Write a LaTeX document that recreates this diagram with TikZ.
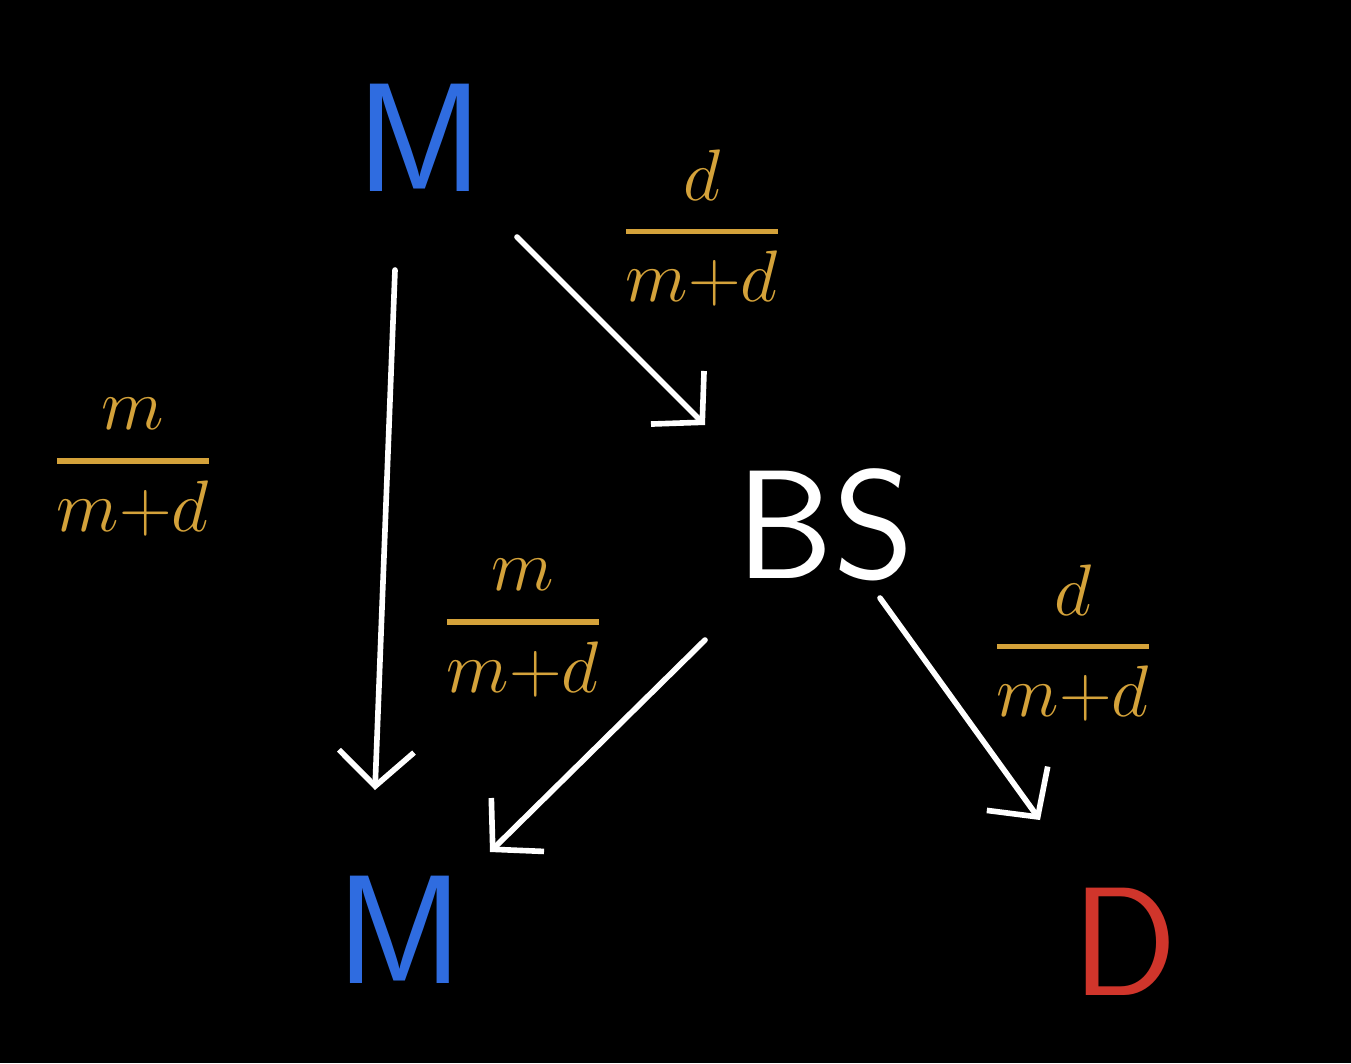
\documentclass[tikz,border=0pt]{standalone}
\usepackage{amsmath}
\usepackage{tikz}
\usetikzlibrary{arrows.meta,calc}
\definecolor{DiagBlue}{HTML}{2F6CE0}
\definecolor{DiagGold}{HTML}{D4A23A}
\definecolor{DiagRed}{HTML}{D0352B}
\newcommand{\share}[2]{\genfrac{}{}{1.6pt}{0}{#1}{#2}}

\begin{document}
\begin{tikzpicture}[
    x=0.01cm, y=-0.01cm,
    party/.style={
      font=\sffamily\fontsize{44}{52}\selectfont,
      inner sep=0pt
    },
    weight/.style={
      text=DiagGold,
      font=\fontsize{20.74}{26}\selectfont,
      inner sep=0pt
    },
    arrow/.style={-{Straight Barb[length=3.5mm,width=7.5mm]}, line width=1.6pt, draw=white, line cap=round, line join=round}
  ]
  \fill[black] (0,0) rectangle (1351,1063);
  \useasboundingbox (0,0) rectangle (1351,1063);

  \node[party, text=DiagBlue] (mtop) at (420,138) {M};
  \node[party, text=white] (bs) at (825,525) {BS};
  \node[party, text=DiagBlue] (mbot) at (400,930) {M};
  \node[party, text=DiagRed] (dpar) at (1125,942) {D};

  \node[weight] (wtop) at (702,228) {$\share{d}{m{+}d}$};
  \node[weight] (wleft) at (133,467) {$\share{m}{m{+}d}$};
  \node[weight] (wmid) at (523,628) {$\share{m}{m{+}d}$};
  \node[weight] (wright) at (1073,643) {$\share{d}{m{+}d}$};

  \draw[arrow] ($(mtop)+(-25,132)$) -- ($(mbot)+(-25,-140)$);
  \draw[arrow] ($(mtop)+(97,99)$) -- ($(bs)+(-120,-100)$);
  \draw[arrow] ($(bs)+(-120,115)$) -- ($(mbot)+(90,-78)$);
  \draw[arrow] ($(bs)+(55,73)$) -- ($(dpar)+(-85,-122)$);
\end{tikzpicture}
\end{document}
